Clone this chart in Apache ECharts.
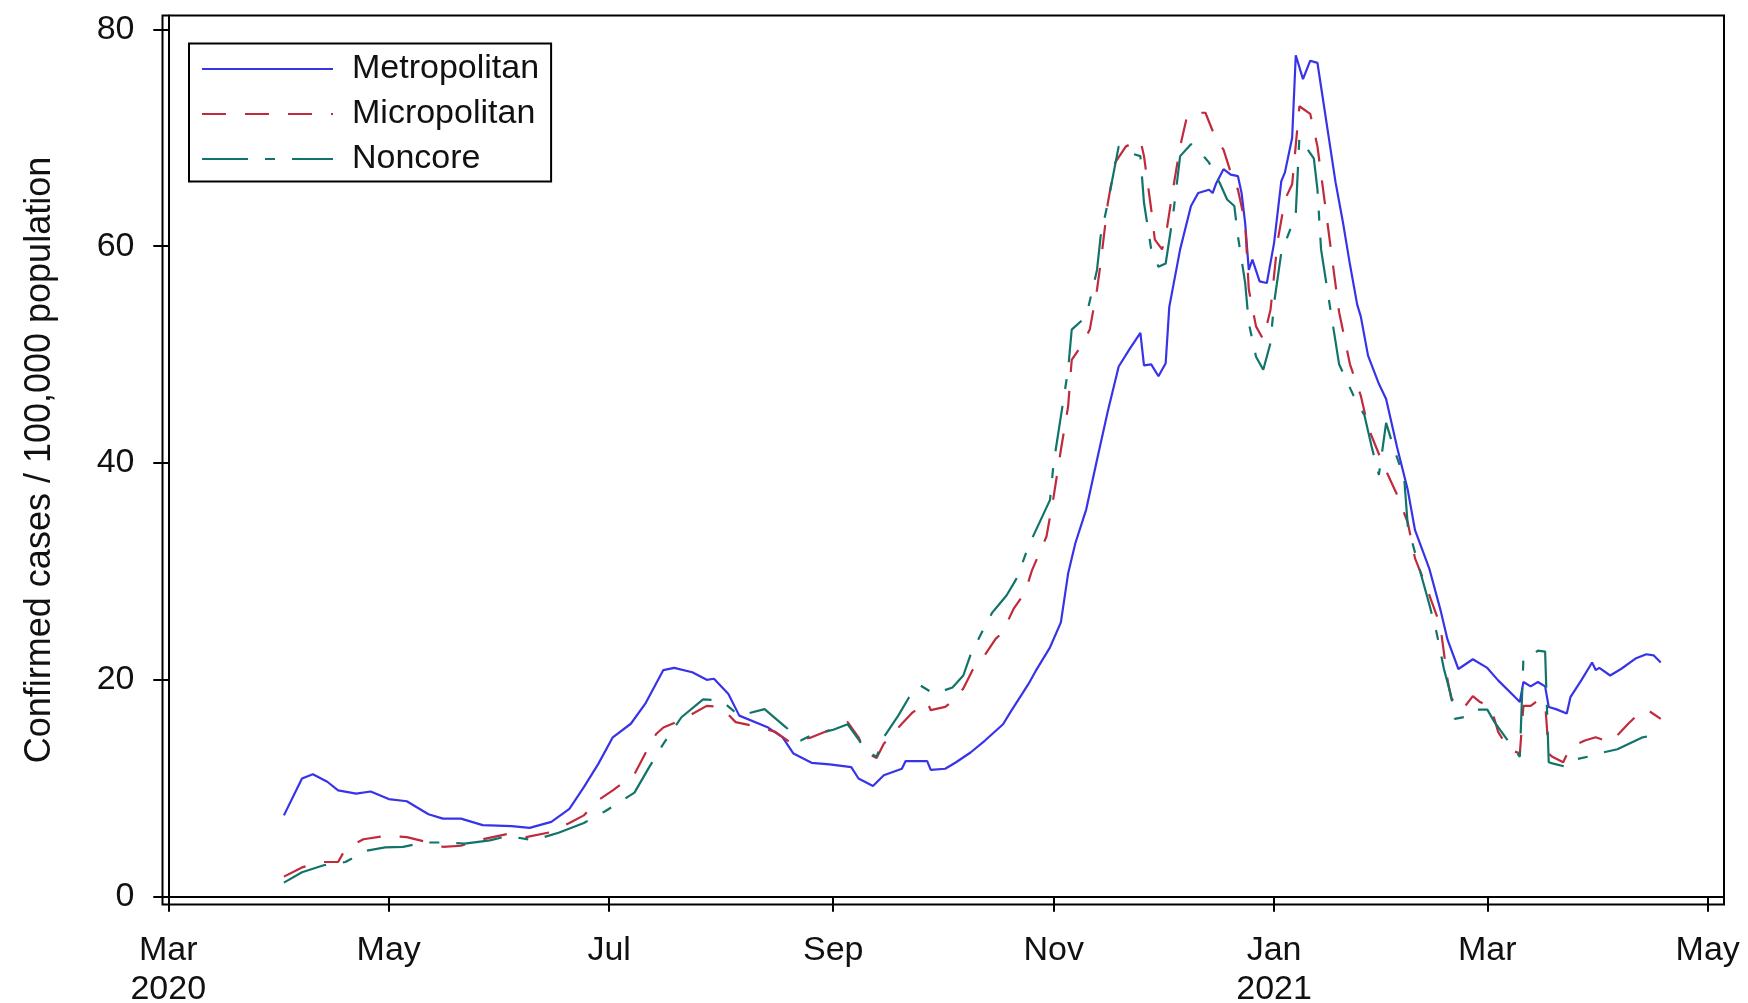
<!DOCTYPE html>
<html><head><meta charset="utf-8">
<script src="https://cdn.jsdelivr.net/npm/echarts@6/dist/echarts.min.js"></script>
<style>html,body{margin:0;padding:0;background:#fff}#c{width:1748px;height:1003px}</style>
</head><body><div id="c"></div>
<script>
const seriesNames = ['Metropolitan', 'Micropolitan', 'Noncore'];

const metroDates = ['2020-04-02','2020-04-07','2020-04-10','2020-04-14','2020-04-17','2020-04-22','2020-04-26','2020-05-01','2020-05-06','2020-05-12',
'2020-05-16','2020-05-21','2020-05-27','2020-06-04','2020-06-09','2020-06-15','2020-06-20','2020-06-24','2020-06-28','2020-07-02',
'2020-07-07','2020-07-11','2020-07-16','2020-07-19','2020-07-24','2020-07-28','2020-07-30','2020-08-03','2020-08-06','2020-08-14',
'2020-08-18','2020-08-21','2020-08-26','2020-08-31','2020-09-06','2020-09-08','2020-09-12','2020-09-15','2020-09-20','2020-09-21',
'2020-09-27','2020-09-28','2020-10-02','2020-10-05','2020-10-09','2020-10-13','2020-10-18','2020-10-20','2020-10-25','2020-10-27',
'2020-10-31','2020-11-03','2020-11-05','2020-11-07','2020-11-10','2020-11-13','2020-11-16','2020-11-19','2020-11-22','2020-11-25',
'2020-11-26','2020-11-28','2020-11-30','2020-12-02','2020-12-03','2020-12-06','2020-12-09','2020-12-11','2020-12-14','2020-12-15',
'2020-12-16','2020-12-18','2020-12-20','2020-12-22','2020-12-23','2020-12-24','2020-12-25','2020-12-26','2020-12-28','2020-12-30',
'2021-01-01','2021-01-03','2021-01-04','2021-01-06','2021-01-07','2021-01-09','2021-01-11','2021-01-13','2021-01-14','2021-01-16',
'2021-01-18','2021-01-20','2021-01-22','2021-01-24','2021-01-25','2021-01-27','2021-01-30','2021-02-01','2021-02-04','2021-02-07',
'2021-02-09','2021-02-13','2021-02-16','2021-02-18','2021-02-21','2021-02-25','2021-03-01','2021-03-04','2021-03-09','2021-03-10',
'2021-03-11','2021-03-13','2021-03-15','2021-03-17','2021-03-18','2021-03-20','2021-03-23','2021-03-24','2021-03-27','2021-03-30',
'2021-03-31','2021-04-01','2021-04-04','2021-04-07','2021-04-11','2021-04-14','2021-04-16','2021-04-18'];
const metroValues = [7.5,10.9,11.3,10.6,9.8,9.5,9.7,9.0,8.8,7.6,
7.2,7.2,6.6,6.5,6.35,6.9,8.1,10.1,12.25,14.7,
15.95,17.8,20.9,21.1,20.7,20.0,20.1,18.7,16.7,15.6,
14.7,13.2,12.35,12.2,11.95,10.9,10.2,11.2,11.8,12.5,
12.5,11.7,11.8,12.4,13.3,14.4,15.9,17.0,19.6,20.8,
23.0,25.3,29.8,32.6,35.7,40.3,44.8,48.9,50.5,52.0,
49.0,49.1,48.0,49.2,54.4,59.7,63.7,64.9,65.2,64.9,
65.8,67.1,66.6,66.45,64.9,62.1,57.8,58.75,56.75,56.6,
60.3,66.0,66.8,70.0,77.6,75.4,77.1,76.9,74.7,70.3,
65.9,62.3,58.3,54.6,53.5,49.9,47.3,45.9,41.5,37.5,
33.8,30.2,26.5,23.7,21.0,21.9,21.1,19.95,18.3,17.95,
19.8,19.4,19.8,19.4,17.5,17.3,16.9,18.4,19.95,21.6,
20.9,21.1,20.4,21.0,21.96,22.36,22.26,21.6];

const microDates = ['2020-04-02','2020-04-07','2020-04-10','2020-04-13','2020-04-17','2020-04-19','2020-04-24','2020-04-30','2020-05-06','2020-05-12',
'2020-05-16','2020-05-21','2020-05-27','2020-06-03','2020-06-08','2020-06-14','2020-06-20','2020-06-24','2020-06-28','2020-07-02',
'2020-07-08','2020-07-11','2020-07-14','2020-07-16','2020-07-21','2020-07-28','2020-08-01','2020-08-05','2020-08-12','2020-08-16',
'2020-08-20','2020-08-26','2020-09-01','2020-09-05','2020-09-08','2020-09-10','2020-09-13','2020-09-15','2020-09-20','2020-09-23',
'2020-09-27','2020-09-28','2020-10-02','2020-10-05','2020-10-07','2020-10-10','2020-10-13','2020-10-16','2020-10-18','2020-10-19',
'2020-10-21','2020-10-24','2020-10-26','2020-10-30','2020-11-01','2020-11-03','2020-11-05','2020-11-06','2020-11-09','2020-11-11',
'2020-11-13','2020-11-14','2020-11-16','2020-11-18','2020-11-21','2020-11-25','2020-11-26','2020-11-28','2020-11-29','2020-12-01',
'2020-12-02','2020-12-04','2020-12-06','2020-12-08','2020-12-10','2020-12-13','2020-12-16','2020-12-18','2020-12-20','2020-12-22',
'2020-12-24','2020-12-25','2020-12-27','2020-12-29','2020-12-31','2021-01-02','2021-01-04','2021-01-06','2021-01-08','2021-01-11',
'2021-01-13','2021-01-15','2021-01-17','2021-01-19','2021-01-22','2021-01-25','2021-01-27','2021-01-31','2021-02-04','2021-02-07',
'2021-02-09','2021-02-12','2021-02-16','2021-02-18','2021-02-19','2021-02-22','2021-02-25','2021-02-27','2021-03-02','2021-03-04',
'2021-03-07','2021-03-10','2021-03-11','2021-03-13','2021-03-15','2021-03-17','2021-03-18','2021-03-19','2021-03-22','2021-03-24',
'2021-03-28','2021-03-31','2021-04-04','2021-04-06','2021-04-09','2021-04-12','2021-04-14','2021-04-18'];
const microValues = [1.85,2.7,3.0,3.2,3.2,4.4,5.3,5.6,5.5,5.0,
4.6,4.7,5.3,5.8,5.5,5.9,6.8,7.5,8.9,9.8,
11.3,13.2,15.0,15.6,16.3,17.6,17.5,16.1,15.6,15.2,
14.25,14.7,15.5,16.1,14.7,13.3,12.8,14.1,15.95,17.0,
17.95,17.2,17.5,18.3,19.2,21.2,22.3,23.8,24.4,25.2,
26.6,28.0,30.1,33.2,36.9,41.2,45.2,49.5,51.0,52.3,
56.0,58.4,64.0,67.7,69.2,69.8,68.3,63.4,60.6,59.7,
60.9,65.2,69.2,72.1,72.3,72.3,69.8,68.9,66.8,65.2,
62.1,56.0,52.6,51.4,54.1,60.5,64.3,65.7,72.9,72.2,
69.2,64.1,59.0,53.9,49.1,46.2,43.3,40.0,37.1,34.5,
31.2,28.7,25.0,20.0,18.3,17.2,18.5,17.95,17.5,15.2,
13.6,13.2,17.6,17.6,18.1,17.95,13.2,12.9,12.4,13.8,
14.4,14.7,14.25,14.9,15.95,16.9,17.3,16.4];

const noncoreDates = ['2020-04-02','2020-04-07','2020-04-13','2020-04-19','2020-04-25','2020-04-30','2020-05-05','2020-05-11','2020-05-17','2020-05-22',
'2020-05-29','2020-06-03','2020-06-10','2020-06-17','2020-06-24','2020-06-30','2020-07-08','2020-07-12','2020-07-16','2020-07-21',
'2020-07-27','2020-08-01','2020-08-06','2020-08-13','2020-08-19','2020-08-23','2020-08-26','2020-09-01','2020-09-05','2020-09-08',
'2020-09-10','2020-09-13','2020-09-15','2020-09-19','2020-09-22','2020-09-25','2020-09-29','2020-10-04','2020-10-07','2020-10-09',
'2020-10-12','2020-10-15','2020-10-17','2020-10-19','2020-10-22','2020-10-25','2020-10-31','2020-11-01','2020-11-03','2020-11-05',
'2020-11-06','2020-11-10','2020-11-13','2020-11-14','2020-11-16','2020-11-19','2020-11-22','2020-11-25','2020-11-26','2020-11-28',
'2020-11-30','2020-12-02','2020-12-04','2020-12-06','2020-12-09','2020-12-11','2020-12-14','2020-12-17','2020-12-19','2020-12-21',
'2020-12-22','2020-12-24','2020-12-25','2020-12-27','2020-12-29','2020-12-31','2021-01-01','2021-01-03','2021-01-06','2021-01-07',
'2021-01-08','2021-01-12','2021-01-13','2021-01-14','2021-01-16','2021-01-19','2021-01-23','2021-01-26','2021-01-28','2021-01-30',
'2021-02-01','2021-02-03','2021-02-06','2021-02-07','2021-02-10','2021-02-13','2021-02-15','2021-02-17','2021-02-19','2021-02-20',
'2021-02-23','2021-02-25','2021-03-01','2021-03-03','2021-03-07','2021-03-10','2021-03-11','2021-03-13','2021-03-15','2021-03-17',
'2021-03-18','2021-03-19','2021-03-23','2021-03-26','2021-03-30','2021-04-02','2021-04-06','2021-04-13','2021-04-16','2021-04-18'];
const noncoreValues = [1.3,2.25,2.9,3.2,4.25,4.55,4.6,5.0,5.0,4.9,
5.2,5.6,5.2,5.9,6.8,7.9,9.6,11.9,14.1,16.55,
18.2,18.1,16.7,17.3,15.6,14.4,14.9,15.4,15.9,14.5,
13.5,12.9,14.7,16.7,18.4,19.5,18.7,19.3,20.4,22.3,
24.3,26.2,27.0,27.8,29.5,32.3,36.6,40.0,44.3,48.6,
52.3,53.5,57.8,60.9,64.0,69.2,68.6,68.3,64.0,59.7,
58.1,58.4,62.75,68.3,69.4,68.9,67.7,65.8,64.3,63.7,
60.9,56.6,52.9,49.8,48.6,51.05,54.75,59.4,62.0,63.0,
70.0,68.1,65.2,59.7,55.4,49.1,46.2,44.4,41.5,38.9,
43.7,41.5,38.6,34.2,30.5,26.9,24.3,21.0,18.5,16.4,
16.6,17.25,17.25,16.1,14.25,12.9,22.0,22.1,22.7,22.6,
12.4,12.3,11.95,12.7,13.0,13.3,13.6,14.7,14.9,14.7];

const tickDates = ['2020-03-01','2020-05-01','2020-07-01','2020-09-01','2020-11-01','2021-01-01','2021-03-01','2021-05-01'];
const tickLabels = ['Mar\n2020','May','Jul','Sep','Nov','Jan\n2021','Mar','May'];
const yTicks = [0, 20, 40, 60, 80];
const yTitle = 'Confirmed cases / 100,000 population';

const DAY0 = Date.UTC(2020, 2, 1);
function dayOf(s) { const p = s.split('-').map(Number); return Math.round((Date.UTC(p[0], p[1] - 1, p[2]) - DAY0) / 86400000); }
function pairs(ds, vs) { return ds.map((d, i) => [dayOf(d), vs[i]]); }
const tickDays = tickDates.map(dayOf);
const labelMap = {};
tickDays.forEach((d, i) => { labelMap[d] = tickLabels[i]; });

const FONT = '"Liberation Sans", Arial, Helvetica, sans-serif';
const chart = echarts.init(document.getElementById('c'), null, { renderer: 'canvas' });
chart.setOption({
  animation: false,
  backgroundColor: '#fff',
  grid: { left: 162.5, top: 15.5, width: 1561.5, height: 889, show: true, borderColor: '#000', borderWidth: 2,
    backgroundColor: 'transparent', containLabel: false, outerBoundsMode: 'none' },
  legend: {
    data: seriesNames, orient: 'vertical', left: 189, top: 43.5,
    padding: [8.5, 12, 5.5, 12], itemGap: 11, itemWidth: 131, itemHeight: 34,
    borderColor: '#000', borderWidth: 2, selectedMode: false,
    itemStyle: { opacity: 0, borderWidth: 0 },
    textStyle: { fontFamily: FONT, fontSize: 34, color: '#111', lineHeight: 34, padding: [0, 0, 0, 14] }
  },
  xAxis: {
    type: 'value', min: -1.6, max: 430.5,
    axisLine: { show: true, lineStyle: { color: '#000', width: 2 } },
    axisTick: { show: true, customValues: tickDays, length: 15, lineStyle: { color: '#000', width: 2 } },
    axisLabel: { customValues: tickDays, formatter: v => (labelMap[v] !== undefined ? labelMap[v] : ''), fontFamily: FONT, fontSize: 34, lineHeight: 39, margin: 27, color: '#111' },
    splitLine: { show: false }
  },
  yAxis: {
    type: 'value', min: -0.72, max: 81.27,
    name: yTitle, nameLocation: 'middle', nameGap: 104,
    nameTextStyle: { fontFamily: FONT, fontSize: 36, color: '#111' },
    axisLine: { show: true, lineStyle: { color: '#000', width: 2 } },
    axisTick: { show: true, customValues: yTicks, length: 15, lineStyle: { color: '#000', width: 2 } },
    axisLabel: { customValues: yTicks, fontFamily: FONT, fontSize: 34, margin: 28, color: '#111' },
    splitLine: { show: false }
  },
  series: [
    { name: seriesNames[0], type: 'line', symbol: 'none', showSymbol: false, data: pairs(metroDates, metroValues),
      itemStyle: { color: '#3833E8' }, lineStyle: { color: '#3833E8', width: 2.2 } },
    { name: seriesNames[1], type: 'line', symbol: 'none', showSymbol: false, data: pairs(microDates, microValues),
      itemStyle: { color: '#C02A3C' }, lineStyle: { color: '#C02A3C', width: 2.2, type: [24, 19] } },
    { name: seriesNames[2], type: 'line', symbol: 'none', showSymbol: false, data: pairs(noncoreDates, noncoreValues),
      itemStyle: { color: '#11746A' }, lineStyle: { color: '#11746A', width: 2.2, type: [46, 17, 10, 17] } }
  ]
});
</script></body></html>
